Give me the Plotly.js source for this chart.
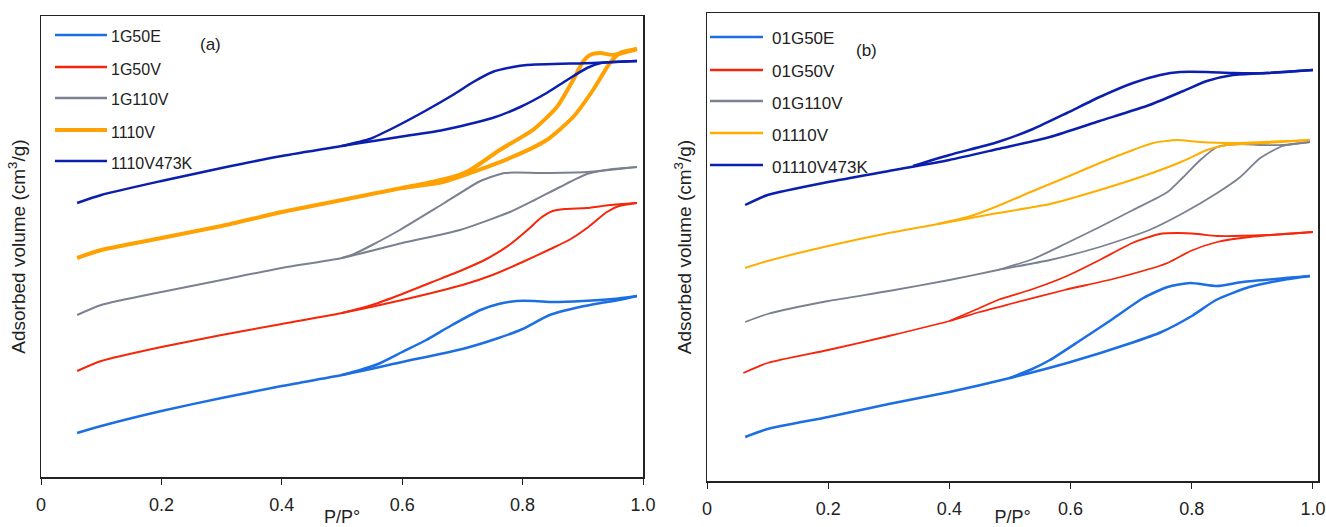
<!DOCTYPE html>
<html>
<head>
<meta charset="utf-8">
<script src="https://cdn.plot.ly/plotly-3.0.1.min.js"></script>
<style>html,body{margin:0;padding:0;background:#fff;}#chart{width:1326px;height:527px;}</style>
</head>
<body>
<div id="chart"></div>
<script>
// ---------- Panel (a): adsorbed volume (arbitrary units) vs P/P0 ----------
const a_1G50E_adsX = [0.06,0.1,0.2,0.3,0.4,0.5,0.6,0.7,0.76,0.8,0.845,0.895,0.93,0.96,0.99];
const a_1G50E_adsY = [44,51,66,79,91,102,115,128,139,148,162,170,174,177,181];
const a_1G50E_desX = [0.99,0.95,0.9,0.85,0.82,0.79,0.76,0.73,0.68,0.64,0.6,0.56,0.53,0.5];
const a_1G50E_desY = [181,178,176,175,176,176,173,167,151,137,125,113,107,102];

const a_1G50V_adsX = [0.06,0.1,0.2,0.3,0.4,0.5,0.6,0.7,0.75,0.8,0.85,0.88,0.907,0.94,0.96,0.99];
const a_1G50V_adsY = [106,116,130,142,153,164,177,192,202,215,229,238,249,265,271,274];
const a_1G50V_desX = [0.99,0.945,0.907,0.87,0.85,0.83,0.81,0.78,0.74,0.7,0.65,0.6,0.55,0.5];
const a_1G50V_desY = [274,272,269,268,266,259,248,233,218,207,195,183,172,164];

const a_1G110V_adsX = [0.06,0.1,0.2,0.3,0.4,0.5,0.6,0.696,0.779,0.82,0.862,0.907,0.95,0.99];
const a_1G110V_adsY = [162,172,185,197,209,219,234,247,265,277,290,303,308,310];
const a_1G110V_desX = [0.99,0.907,0.83,0.77,0.73,0.67,0.596,0.55,0.52,0.5];
const a_1G110V_desY = [310,305,304,304,296,274,247,232,223,219];

const a_1110V_adsX = [0.06,0.1,0.2,0.3,0.4,0.5,0.6,0.668,0.779,0.84,0.884,0.917,0.945,0.962,0.99];
const a_1110V_adsY = [219,227,239,251,265,277,289,295,319,337,360,387,414,424,428];
const a_1110V_desX = [0.99,0.95,0.929,0.912,0.9,0.884,0.857,0.817,0.762,0.713,0.684,0.65,0.6];
const a_1110V_desY = [428,422,424,422,415,397,370,347,327,307,300,295,289];

const a_1110V473K_adsX = [0.06,0.1,0.2,0.3,0.4,0.5,0.53,0.584,0.668,0.75,0.796,0.84,0.874,0.907,0.93,0.99];
const a_1110V473K_adsY = [274,282,296,309,321,331,334,339,347,359,370,384,397,409,414,416];
const a_1110V473K_desX = [0.99,0.917,0.807,0.784,0.75,0.718,0.684,0.641,0.585,0.546,0.5];
const a_1110V473K_desY = [416,414,412,410,405,395,382,367,349,338,331];

// ---------- Panel (b) ----------
const b_01G50E_adsX = [0.063,0.1,0.2,0.3,0.4,0.5,0.6,0.7,0.75,0.8,0.84,0.895,0.95,0.995];
const b_01G50E_adsY = [44,52,64,77,89,103,119,138,149,165,181,194,201,205];
const b_01G50E_desX = [0.995,0.884,0.842,0.797,0.76,0.72,0.667,0.617,0.566,0.533,0.5];
const b_01G50E_desY = [205,199,195,198,194,183,161,141,121,111,103];

const b_01G50V_adsX = [0.06,0.1,0.2,0.3,0.4,0.45,0.5,0.59,0.67,0.76,0.798,0.842,0.896,1.0];
const b_01G50V_adsY = [108,118,131,145,160,169,177,191,202,218,230,239,244,249];
const b_01G50V_desX = [1.0,0.924,0.842,0.81,0.776,0.747,0.702,0.648,0.594,0.538,0.48,0.45,0.4];
const b_01G50V_desY = [249,246,245,247,248,247,238,221,205,192,181,173,160];

const b_01G110V_adsX = [0.063,0.1,0.2,0.3,0.4,0.48,0.566,0.648,0.73,0.786,0.842,0.88,0.913,0.95,0.995];
const b_01G110V_adsY = [159,167,180,190,201,211,221,234,251,268,288,304,323,335,339];
const b_01G110V_desX = [0.995,0.95,0.913,0.88,0.842,0.814,0.786,0.76,0.703,0.648,0.594,0.538,0.48];
const b_01G110V_desY = [339,336,336,337,334,321,304,289,271,254,238,222,211];

const b_01110V_adsX = [0.063,0.1,0.2,0.3,0.4,0.48,0.566,0.648,0.73,0.786,0.825,0.858,0.924,0.995];
const b_01110V_adsY = [213,220,235,248,259,268,277,291,307,320,331,336,338,341];
const b_01110V_desX = [0.995,0.866,0.814,0.776,0.736,0.703,0.648,0.594,0.538,0.48,0.43,0.38];
const b_01110V_desY = [341,338,339,341,338,331,318,304,290,275,264,257];

const b_01110V473K_adsX = [0.063,0.1,0.2,0.3,0.4,0.48,0.566,0.648,0.73,0.786,0.825,0.868,0.924,1.0];
const b_01110V473K_adsY = [276,286,299,310,321,332,344,360,376,390,400,406,408,411];
const b_01110V473K_desX = [1.0,0.924,0.868,0.825,0.781,0.748,0.703,0.648,0.594,0.538,0.48,0.4,0.34];
const b_01110V473K_desY = [411,408,408,409,409,406,398,384,368,352,339,326,315];

const namesA = ['1G50E','1G50V','1G110V','1110V','1110V473K'];
const namesB = ['01G50E','01G50V','01G110V','01110V','01110V473K'];
const xTickVals = [0,0.2,0.4,0.6,0.8,1.0];
const xTickText = ['0','0.2','0.4','0.6','0.8','1.0'];

const colorsA = ['#1c6fe3','#f5260a','#7a8191','#ffa100','#0b1fae'];
const widthsA = [2.5,2,2,4,2.5];
const colorsB = ['#1c6fe3','#f5260a','#7a8191','#ffae00','#0b1fae'];
const widthsB = [2.5,1.8,1.8,2,2.5];

const seriesA = [
  [a_1G50E_adsX,a_1G50E_adsY,a_1G50E_desX,a_1G50E_desY],
  [a_1G50V_adsX,a_1G50V_adsY,a_1G50V_desX,a_1G50V_desY],
  [a_1G110V_adsX,a_1G110V_adsY,a_1G110V_desX,a_1G110V_desY],
  [a_1110V_adsX,a_1110V_adsY,a_1110V_desX,a_1110V_desY],
  [a_1110V473K_adsX,a_1110V473K_adsY,a_1110V473K_desX,a_1110V473K_desY]
];
const seriesB = [
  [b_01G50E_adsX,b_01G50E_adsY,b_01G50E_desX,b_01G50E_desY],
  [b_01G50V_adsX,b_01G50V_adsY,b_01G50V_desX,b_01G50V_desY],
  [b_01G110V_adsX,b_01G110V_adsY,b_01G110V_desX,b_01G110V_desY],
  [b_01110V_adsX,b_01110V_adsY,b_01110V_desX,b_01110V_desY],
  [b_01110V473K_adsX,b_01110V473K_adsY,b_01110V473K_desX,b_01110V473K_desY]
];

const traces = [];
function addSeries(series, names, colors, widths, xa, ya) {
  series.forEach((s, i) => {
    [[s[0], s[1]], [s[2], s[3]]].forEach((br, j) => {
      traces.push({
        type: 'scatter', mode: 'lines', x: br[0], y: br[1],
        xaxis: xa, yaxis: ya, name: names[i], legendgroup: names[i],
        showlegend: false, hoverinfo: 'skip',
        line: {color: colors[i], width: widths[i], shape: 'spline', smoothing: 0.6}
      });
    });
  });
}
addSeries(seriesA, namesA, colorsA, widthsA, 'x', 'y');
addSeries(seriesB, namesB, colorsB, widthsB, 'x2', 'y2');

const W = 1326, H = 527;
const font = 'Liberation Sans, Arial, sans-serif';
const shapes = [], annotations = [];
function legend(names, colors, widths, x0, x1, tx, ys, fs) {
  names.forEach((n, i) => {
    const y = (H - ys[i]) / H;
    shapes.push({type: 'line', xref: 'paper', yref: 'paper', x0: x0 / W, x1: x1 / W, y0: y, y1: y,
      line: {color: colors[i], width: Math.max(widths[i], 2.5)}});
    annotations.push({xref: 'paper', yref: 'paper', x: tx / W, y: (H - ys[i] - 2) / H, xanchor: 'left', yanchor: 'middle',
      text: n, showarrow: false, font: {family: font, size: fs, color: '#222'}});
  });
}
legend(namesA, colorsA, widthsA, 55, 107, 109, [35, 67, 98, 130, 161], 16);
legend(namesB, colorsB, widthsB, 710, 763, 770, [37, 70, 101, 133, 165], 17);
annotations.push({xref: 'paper', yref: 'paper', x: 198 / W, y: (H - 33) / H, text: '(a)', showarrow: false,
  font: {family: font, size: 17, color: '#222'}});
annotations.push({xref: 'paper', yref: 'paper', x: 866 / W, y: (H - 39) / H, text: '(b)', showarrow: false,
  font: {family: font, size: 17, color: '#222'}});

const xaxBase = {
  tickvals: xTickVals, ticktext: xTickText, ticks: 'outside', ticklen: 6, tickcolor: '#222',
  showline: true, linecolor: '#222', linewidth: 1.5, mirror: true, showgrid: false, zeroline: false,
  tickfont: {family: font, size: 18, color: '#222'}, ticklabelstandoff: 5,
  title: {text: 'P/P°', font: {family: font, size: 18, color: '#222'}, standoff: 3}
};
const yaxBase = {
  showticklabels: false, ticks: '', showline: true, linecolor: '#222', linewidth: 1.5, mirror: true,
  showgrid: false, zeroline: false,
  title: {text: 'Adsorbed volume (cm<sup>3</sup>/g)', font: {family: font, size: 19, color: '#222'}, standoff: 9}
};

const layout = {
  width: W, height: H, margin: {l: 0, r: 0, t: 0, b: 0},
  paper_bgcolor: '#fff', plot_bgcolor: '#fff', showlegend: false,
  xaxis: Object.assign({}, xaxBase, {domain: [41 / W, 643 / W], range: [0, 1], anchor: 'y'}),
  yaxis: Object.assign({}, yaxBase, {domain: [(H - 477) / H, (H - 16) / H], range: [0, 461], anchor: 'x'}),
  xaxis2: Object.assign({}, xaxBase, {domain: [707 / W, 1318 / W], range: [0, 1.0083], anchor: 'y2'}),
  yaxis2: Object.assign({}, yaxBase, {domain: [(H - 481) / H, (H - 13) / H], range: [0, 468], anchor: 'x2'}),
  shapes: shapes, annotations: annotations
};

Plotly.newPlot('chart', traces, layout, {displayModeBar: false, staticPlot: true});
</script>
</body>
</html>
